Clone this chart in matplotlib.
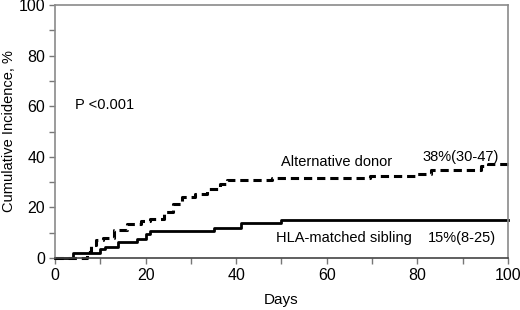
import matplotlib.pyplot as plt
from matplotlib.ticker import MultipleLocator

plt.rcParams['font.family'] = ['Liberation Sans', 'DejaVu Sans']

# Step data (days, cumulative incidence %)
hla_days = [0, 4, 10, 11, 14, 18, 20, 21, 35, 41, 50, 100]
hla_inc = [0, 1.9, 3.5, 4.5, 6.2, 7.5, 9.3, 10.5, 11.7, 13.7, 15, 15]

alt_days = [0, 7, 8, 9, 10.6, 13, 16, 19, 21, 24, 26, 28, 31, 33.5, 36.5, 38,
            48, 69.5, 80, 83, 94, 95.5, 100]
alt_inc = [0, 2.5, 5, 7, 8, 11, 13.6, 14.7, 15.6, 18.2, 21.5, 24, 25.5, 27.4,
           29.4, 30.7, 31.6, 32.4, 33.3, 34.6, 36.2, 37.3, 37.3]

fig = plt.figure(figsize=(5.2, 3.1), dpi=100)
ax = fig.add_axes([0.1058, 0.1677, 0.871, 0.816])

ax.plot(alt_days, alt_inc, drawstyle='steps-post', color='black', lw=2.2,
        linestyle=(0, (2.7, 1.6)), clip_on=False)
ax.plot(hla_days, hla_inc, drawstyle='steps-post', color='black', lw=2.0,
        clip_on=False)

ax.set_xlim(0, 100)
ax.set_ylim(0, 100)
ax.xaxis.set_major_locator(MultipleLocator(20))
ax.xaxis.set_minor_locator(MultipleLocator(10))
ax.yaxis.set_major_locator(MultipleLocator(20))
ax.yaxis.set_minor_locator(MultipleLocator(10))
for s in ax.spines.values():
    s.set_color('#8a8a8a')
    s.set_linewidth(1.2)
ax.spines['bottom'].set_color('#444444')
ax.tick_params(which='both', direction='out', length=4, width=1, color='#777777',
               labelsize=11.5, pad=3)
ax.tick_params(which='minor', labelbottom=False, labelleft=False)

ax.set_xlabel('Days', fontsize=11)
ax.set_ylabel('Cumulative Incidence, %', fontsize=10.5)
ax.xaxis.set_label_coords(0.5, -0.14)
ax.yaxis.set_label_coords(-0.087, 0.5)

ax.text(4.4, 60.5, 'P <0.001', fontsize=10.5, va='center')
ax.text(50, 37.8, 'Alternative donor', fontsize=10.5, va='center')
ax.text(81.2, 39.9, '38%(30-47)', fontsize=10.5, va='center')
ax.text(48.8, 7.8, 'HLA-matched sibling', fontsize=10.5, va='center')
ax.text(82.3, 7.8, '15%(8-25)', fontsize=10.5, va='center')

fig.savefig('out.png', dpi=100)
